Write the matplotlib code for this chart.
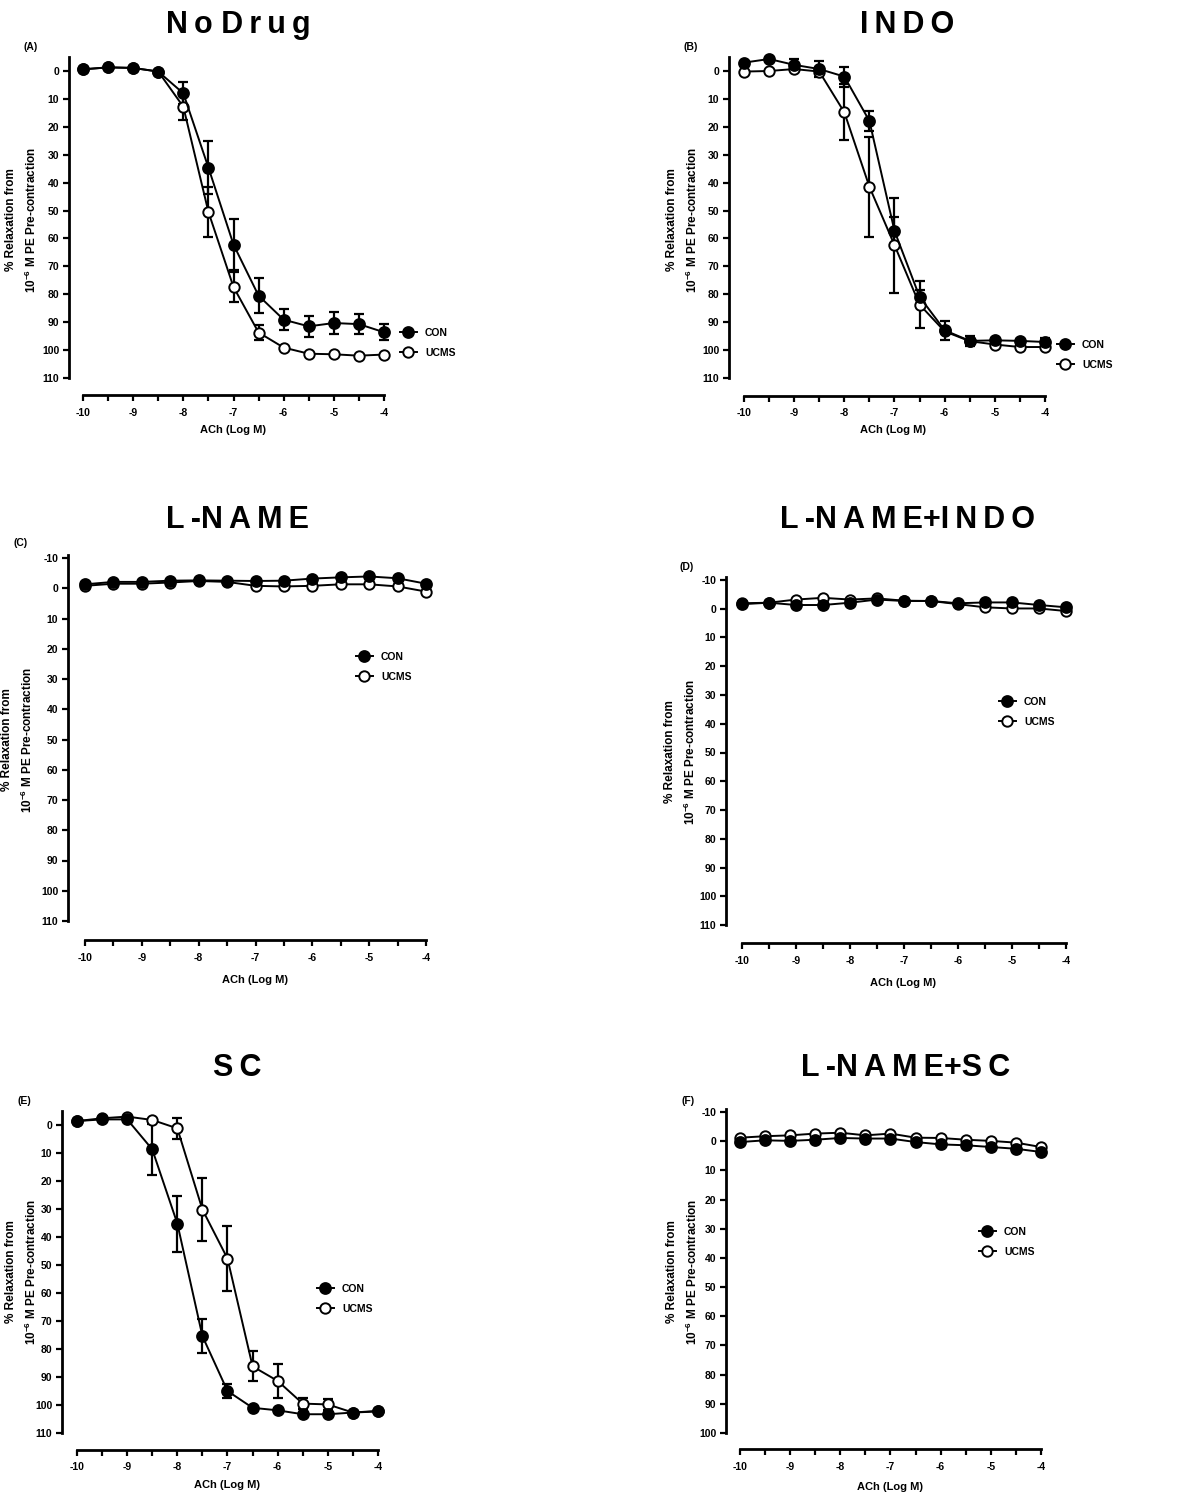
import matplotlib
matplotlib.use("Agg")
import matplotlib.pyplot as plt
import numpy as np

plt.rcParams['font.family'] = ['Liberation Sans', 'DejaVu Sans']
plt.rcParams['font.weight'] = 'bold'
plt.rcParams['mathtext.fontset'] = 'custom'
plt.rcParams['mathtext.rm'] = 'Liberation Sans:bold'
plt.rcParams['mathtext.bf'] = 'Liberation Sans:bold'

# ---------------- data ----------------
log_ach = [-10, -9.5, -9, -8.5, -8, -7.5, -7, -6.5, -6, -5.5, -5, -4.5, -4]

# (A) No Drug
a_con = [-0.6, -1.3, -1.1, 0.2, 8.0, 34.6, 62.2, 80.5, 89.1, 91.5, 90.3, 90.7, 93.6]
a_con_err = [0, 0, 0, 0, 4.0, 9.4, 9.0, 6.2, 3.7, 3.7, 3.9, 3.6, 2.9]
a_ucms = [-0.6, -1.3, -1.1, 0.2, 12.8, 50.5, 77.4, 93.7, 99.1, 101.3, 101.5, 102.0, 101.6]
a_ucms_err = [0, 0, 0, 0, 4.6, 8.8, 5.5, 2.6, 0, 0, 0, 0, 0]

# (B) INDO
b_con = [-3.0, -4.3, -2.2, -0.7, 2.0, 17.9, 57.3, 80.9, 92.9, 96.7, 96.5, 96.7, 97.1]
b_con_err = [0, 0, 2.0, 3.0, 3.6, 3.6, 5.0, 2.6, 3.5, 1.8, 0.8, 0.8, 1.5]
b_ucms = [0.2, 0.0, -0.7, 0.2, 14.8, 41.5, 62.4, 83.7, 93.3, 96.8, 98.0, 98.9, 98.9]
b_ucms_err = [0, 0, 0, 0, 10.1, 18.0, 17.0, 8.4, 0, 0, 0, 0, 0]

# (C) L-NAME
c_con = [-1.3, -2.1, -2.1, -2.5, -2.6, -2.5, -2.4, -2.5, -3.2, -3.6, -3.9, -3.3, -1.5]
c_ucms = [-0.8, -1.5, -1.5, -1.9, -2.4, -2.1, -0.8, -0.6, -0.8, -1.3, -1.3, -0.6, 1.1]

# (D) L-NAME+INDO
d_con = [-1.6, -2.1, -1.3, -1.3, -2.1, -3.2, -2.7, -2.7, -1.9, -2.2, -2.2, -1.3, -0.5]
d_ucms = [-1.9, -2.1, -3.2, -3.8, -3.2, -3.6, -2.8, -2.7, -1.6, -0.5, -0.1, -0.1, 0.8]

# (E) SC
e_con = [-1.4, -2.0, -2.0, 8.7, 35.2, 75.4, 95.0, 101.0, 101.9, 103.3, 103.3, 102.7, 102.1]
e_con_err = [0, 0, 0, 9.0, 10.0, 6.0, 2.5, 0, 0, 0, 0, 0, 0]
e_ucms = [-1.4, -2.4, -3.0, -1.8, 1.2, 30.2, 47.7, 86.2, 91.4, 99.5, 99.8, 102.7, 102.3]
e_ucms_err = [0, 0, 0, 0, 3.7, 11.3, 11.6, 5.4, 6.1, 1.9, 1.9, 0, 0]

# (F) L-NAME+SC
f_con = [0.3, -0.3, -0.1, -0.5, -1.1, -0.9, -0.9, 0.3, 1.1, 1.4, 2.0, 2.6, 3.7]
f_ucms = [-1.2, -1.7, -2.0, -2.6, -2.9, -2.0, -2.6, -1.2, -1.1, -0.5, -0.1, 0.5, 2.0]

T = "\u2009"  # thin space used for the letter-spaced titles
titles = ["N" + T + "o" + " " + "D" + T + "r" + T + "u" + T + "g",
          "I" + T + "N" + T + "D" + T + "O",
          "L" + T + "-N" + T + "A" + T + "M" + T + "E",
          "L" + T + "-N" + T + "A" + T + "M" + T + "E+I" + T + "N" + T + "D" + T + "O",
          "S" + T + "C",
          "L" + T + "-N" + T + "A" + T + "M" + T + "E+S" + T + "C"]
letters = ["(A)", "(B)", "(C)", "(D)", "(E)", "(F)"]
series_names = ["CON", "UCMS"]
x_ticks = [-10, -9, -8, -7, -6, -5, -4]
x_label = "ACh (Log M)"
y_label = "% Relaxation from\n10$^{\\mathbf{-6}}$ M PE Pre-contraction"

panels = [
    (a_con, a_con_err, a_ucms, a_ucms_err, list(range(0, 111, 10))),
    (b_con, b_con_err, b_ucms, b_ucms_err, list(range(0, 111, 10))),
    (c_con, None, c_ucms, None, list(range(-10, 111, 10))),
    (d_con, None, d_ucms, None, list(range(-10, 111, 10))),
    (e_con, e_con_err, e_ucms, e_ucms_err, list(range(0, 111, 10))),
    (f_con, None, f_ucms, None, list(range(-10, 101, 10))),
]

# ---------------- layout (pixels) ----------------
W, H = 1200, 1494
# spine_x, x(-10)px, x(-4)px, ref1(px,val), ref2(px,val), spine top px, x-axis px
geom = [
    (69, 83, 384, (71, 0), (378, 110), 57, 395),
    (729, 744, 1045, (71, 0), (378, 110), 57, 396),
    (68, 85, 426, (558, -10), (921, 110), 555, 940),
    (726, 742, 1066, (580, -10), (925, 110), 577, 943),
    (62, 77, 378, (1125, 0), (1433, 110), 1111, 1450),
    (726, 740, 1041, (1112, -10), (1433, 100), 1109, 1449),
]
title_pos = [(238, 25), (907, 25), (238, 520), (907, 520), (237, 1068), (906, 1068)]
letter_pos = [(24, 47), (683, 47), (13, 543), (679, 567), (18, 1101), (682, 1101)]
ylab_pos = [(22, 220), (683, 220), (18, 740), (681, 752), (22, 1272), (683, 1272)]
xlab_pos = [(233, 430), (893, 430), (255, 980), (903, 983), (227, 1485), (890, 1487)]
leg_pos = [(400, 343), (1057, 355), (356, 667), (999, 712), (317, 1299), (979, 1242)]

fig = plt.figure(figsize=(W / 100, H / 100), dpi=100)
fig.patch.set_facecolor('white')

for i, (con, con_err, ucms, ucms_err, yt) in enumerate(panels):
    sx, xl, xr, (p0, v0), (p1, v1), ytop, xax = geom[i]
    k = (p1 - p0) / (v1 - v0)
    ytop_val = v0 + (ytop - p0) / k
    ybot_val = v0 + (xax - p0) / k
    kx = (xr - xl) / 6.0
    xleft_val = -10 - (xl - sx) / kx
    ax = fig.add_axes([sx / W, 1 - xax / H, (xr - sx) / W, (xax - ytop) / H])
    ax.set_xlim(xleft_val, -4)
    ax.set_ylim(ybot_val, ytop_val)
    for s in ['top', 'right']:
        ax.spines[s].set_visible(False)
    ax.spines['left'].set_bounds(ytop_val, yt[-1])
    ax.spines['bottom'].set_bounds(-10, -4)
    ax.spines['left'].set_linewidth(2.0)
    ax.spines['bottom'].set_linewidth(2.0)
    ax.set_yticks(yt)
    ax.set_yticklabels([str(v) for v in yt])
    ax.set_xticks(x_ticks)
    ax.set_xticklabels([str(v) for v in x_ticks])
    ax.set_xticks(log_ach, minor=True)
    ax.tick_params(axis='both', which='both', direction='out', length=4, width=1.6,
                   labelsize=7.5)
    ax.tick_params(axis='x', which='major', pad=5)
    ax.tick_params(axis='y', pad=3)
    for lab in ax.get_xticklabels() + ax.get_yticklabels():
        lab.set_fontweight('bold')

    h_ucms, = ax.plot(log_ach, ucms, '-', color='k', lw=1.4, marker='o', ms=7.5,
                      mfc='white', mec='k', mew=1.4, clip_on=False, zorder=3,
                      label=series_names[1])
    h_con, = ax.plot(log_ach, con, '-', color='k', lw=1.4, marker='o', ms=8,
                     mfc='k', mec='k', mew=1.2, clip_on=False, zorder=4,
                     label=series_names[0])
    if ucms_err is not None:
        ax.errorbar(log_ach, ucms, yerr=ucms_err, fmt='none', ecolor='k',
                    elinewidth=1.6, capsize=3.8, capthick=1.6, zorder=2, clip_on=False)
    if con_err is not None:
        ax.errorbar(log_ach, con, yerr=con_err, fmt='none', ecolor='k',
                    elinewidth=1.6, capsize=3.8, capthick=1.6, zorder=2, clip_on=False)

    lx, ly = leg_pos[i]
    fig.legend(handles=[h_con, h_ucms], loc='center left',
               bbox_to_anchor=(lx / W, 1 - ly / H), frameon=False,
               prop={'weight': 'bold', 'size': 7.5}, handlelength=1.6,
               handletextpad=0.8, labelspacing=0.95, borderpad=0, borderaxespad=0)

    tx, ty = title_pos[i]
    fig.text(tx / W, 1 - ty / H, titles[i], ha='center', va='center',
             fontsize=22, fontweight='bold')
    lx2, ly2 = letter_pos[i]
    fig.text(lx2 / W, 1 - ly2 / H, letters[i], ha='left', va='center',
             fontsize=7.5, fontweight='bold')
    yx, yy = ylab_pos[i]
    fig.text(yx / W, 1 - yy / H, y_label, rotation=90, ha='center', va='center',
             multialignment='center', fontsize=8.5, fontweight='bold', linespacing=1.5)
    xx, xy = xlab_pos[i]
    fig.text(xx / W, 1 - xy / H, x_label, ha='center', va='center',
             fontsize=8, fontweight='bold')

fig.savefig('out.png', dpi=100, facecolor='white')
